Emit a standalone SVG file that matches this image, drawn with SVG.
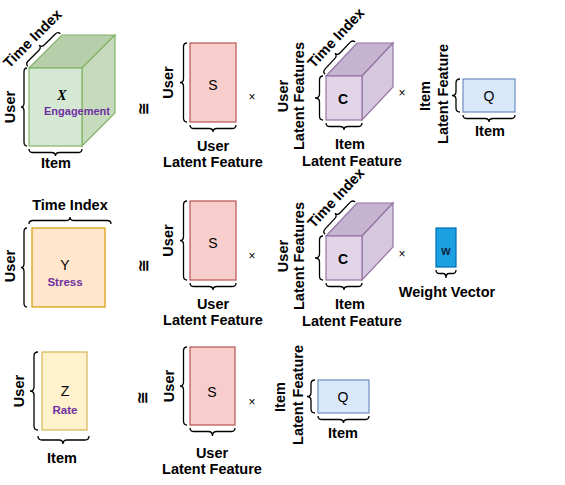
<svg xmlns="http://www.w3.org/2000/svg" width="565" height="485" viewBox="0 0 565 485">
<style>
text{font-family:"Liberation Sans","DejaVu Sans",Arial,sans-serif;fill:#000}
.lb{font-size:14.5px;font-weight:bold;text-anchor:middle}
.br{fill:none;stroke:#000;stroke-width:1.3}
.sym{font-size:14px;text-anchor:middle}
.op{font-size:12px;text-anchor:middle;dominant-baseline:central}
.eq{font-size:16px;font-weight:bold;text-anchor:middle;dominant-baseline:central;font-family:"DejaVu Sans","Liberation Sans",sans-serif}
.pu{font-size:11.5px;font-weight:bold;text-anchor:middle;fill:#7030a0}
.gf{fill:#d5e8d4;stroke:#82b366;stroke-width:1.2}
.gt{fill:#b6cfaa;stroke:#82b366;stroke-width:1.2}
.gr{fill:#c5dbbc;stroke:#82b366;stroke-width:1.2}
.pf{fill:#e1d5e7;stroke:#9673a6;stroke-width:1.2}
.pt{fill:#c4b4d0;stroke:#9673a6;stroke-width:1.2}
.pr{fill:#d5c7de;stroke:#9673a6;stroke-width:1.2}
.rs{fill:#f8cecc;stroke:#b85450;stroke-width:1.2}
.bq{fill:#dae8fc;stroke:#6c8ebf;stroke-width:1.2}
</style>

<!-- Row 1 -->
<g id="X-engagement">
  <polygon class="gt" points="29,68 62,35 115,35 82,68"/>
  <polygon class="gr" points="82,68 115,35 115,113 82,146"/>
  <rect class="gf" x="29" y="68" width="53" height="78"/>
  <text x="62" y="100" style="font-family:'Liberation Serif',serif;font-style:italic;font-weight:bold;font-size:14px;text-anchor:middle">X</text>
  <text class="pu" x="77" y="114.5" style="font-size:11px">Engagement</text>
  <g transform="translate(45.5,51.5) rotate(-45)">
    <path class="br" d="M-23 -2 Q-23 -5.5 -19 -5.5 L-4 -5.5 Q0 -5.5 0 -9 Q0 -5.5 4 -5.5 L19 -5.5 Q23 -5.5 23 -2"/>
    <text class="lb" x="0" y="-13.5">Time Index</text>
  </g>
  <path class="br" d="M27 68 Q24 68 24 72 L24 103 Q24 107 21 107 Q24 107 24 111 L24 142 Q24 146 27 146"/>
  <text class="lb" transform="translate(15,107) rotate(-90)">User</text>
  <path class="br" d="M29 149 Q29 152.5 33 152.5 L51.5 152.5 Q55.5 152.5 55.5 156 Q55.5 152.5 59.5 152.5 L78 152.5 Q82 152.5 82 149"/>
  <text class="lb" x="56" y="168">Item</text>
</g>

<g id="S-1">
  <rect class="rs" x="190" y="43" width="46" height="79"/>
  <text class="sym" x="213" y="90">S</text>
  <path class="br" d="M187 43 Q183.5 43 183.5 47 L183.5 78.5 Q183.5 82.5 180 82.5 Q183.5 82.5 183.5 86.5 L183.5 118 Q183.5 122 187 122"/>
  <text class="lb" transform="translate(173,82.5) rotate(-90)">User</text>
  <path class="br" d="M190 125 Q190 128.5 194 128.5 L209 128.5 Q213 128.5 213 132 Q213 128.5 217 128.5 L232 128.5 Q236 128.5 236 125"/>
  <text class="lb" x="213" y="151">User</text>
  <text class="lb" x="213" y="167">Latent Feature</text>
</g>

<g id="C-1">
  <polygon class="pt" points="326,76 357,43 393,43 362,76"/>
  <polygon class="pr" points="362,76 393,43 393,87 362,120"/>
  <rect class="pf" x="326" y="76" width="36" height="44"/>
  <text x="343" y="104" style="font-size:14px;font-weight:bold;text-anchor:middle">C</text>
  <g transform="translate(341.5,59.5) rotate(-46.8)">
    <path class="br" d="M-22 -2 Q-22 -5.5 -18 -5.5 L-4 -5.5 Q0 -5.5 0 -9 Q0 -5.5 4 -5.5 L18 -5.5 Q22 -5.5 22 -2"/>
    <text class="lb" x="12" y="-14">Time Index</text>
  </g>
  <path class="br" d="M323 76 Q319.5 76 319.5 80 L319.5 94 Q319.5 98 315 98 Q319.5 98 319.5 102 L319.5 116 Q319.5 120 323 120"/>
  <text class="lb" transform="translate(288,96) rotate(-90)">User</text>
  <text class="lb" transform="translate(304,96) rotate(-90)">Latent Features</text>
  <path class="br" d="M326 123 Q326 126.5 330 126.5 L340 126.5 Q344 126.5 344 130 Q344 126.5 348 126.5 L358 126.5 Q362 126.5 362 123"/>
  <text class="lb" x="350" y="149">Item</text>
  <text class="lb" x="352" y="166">Latent Feature</text>
</g>

<g id="Q-1">
  <rect class="bq" x="463" y="79" width="52" height="33"/>
  <text class="sym" x="489" y="101">Q</text>
  <path class="br" d="M460 79 Q456 79 456 83 L456 91.5 Q456 95.5 452 95.5 Q456 95.5 456 99.5 L456 108 Q456 112 460 112"/>
  <text class="lb" transform="translate(430,96) rotate(-90)">Item</text>
  <text class="lb" transform="translate(448,94) rotate(-90)">Latent Feature</text>
  <path class="br" d="M463 115 Q463 118.5 467 118.5 L485 118.5 Q489 118.5 489 122 Q489 118.5 493 118.5 L511 118.5 Q515 118.5 515 115"/>
  <text class="lb" x="490" y="136">Item</text>
</g>

<!-- Row 2 -->
<g id="Y-stress">
  <text class="lb" x="70" y="210">Time Index</text>
  <path class="br" d="M29 224 Q29 220.5 33 220.5 L66 220.5 Q70 220.5 70 217 Q70 220.5 74 220.5 L107 220.5 Q111 220.5 111 224"/>
  <rect x="32" y="228" width="73" height="79" style="fill:#ffe6cc;stroke:#d79b00;stroke-width:1.2"/>
  <text class="sym" x="65" y="270">Y</text>
  <text class="pu" x="65" y="286">Stress</text>
  <path class="br" d="M27 228 Q24 228 24 232 L24 263.5 Q24 267.5 21 267.5 Q24 267.5 24 271.5 L24 303 Q24 307 27 307"/>
  <text class="lb" transform="translate(15,266) rotate(-90)">User</text>
</g>

<g id="S-2">
  <rect class="rs" x="190" y="201" width="46" height="79"/>
  <text class="sym" x="213" y="248">S</text>
  <path class="br" d="M187 201 Q183.5 201 183.5 205 L183.5 236.5 Q183.5 240.5 180 240.5 Q183.5 240.5 183.5 244.5 L183.5 276 Q183.5 280 187 280"/>
  <text class="lb" transform="translate(173,240.5) rotate(-90)">User</text>
  <path class="br" d="M190 283 Q190 286.5 194 286.5 L209 286.5 Q213 286.5 213 290 Q213 286.5 217 286.5 L232 286.5 Q236 286.5 236 283"/>
  <text class="lb" x="213" y="309">User</text>
  <text class="lb" x="213" y="325">Latent Feature</text>
</g>

<g id="C-2">
  <polygon class="pt" points="326,236 357,203 393,203 362,236"/>
  <polygon class="pr" points="362,236 393,203 393,247 362,280"/>
  <rect class="pf" x="326" y="236" width="36" height="44"/>
  <text x="343" y="264" style="font-size:14px;font-weight:bold;text-anchor:middle">C</text>
  <g transform="translate(341.5,219.5) rotate(-46.8)">
    <path class="br" d="M-22 -2 Q-22 -5.5 -18 -5.5 L-4 -5.5 Q0 -5.5 0 -9 Q0 -5.5 4 -5.5 L18 -5.5 Q22 -5.5 22 -2"/>
    <text class="lb" x="12" y="-14">Time Index</text>
  </g>
  <path class="br" d="M323 236 Q319.5 236 319.5 240 L319.5 254 Q319.5 258 315 258 Q319.5 258 319.5 262 L319.5 276 Q319.5 280 323 280"/>
  <text class="lb" transform="translate(288,256) rotate(-90)">User</text>
  <text class="lb" transform="translate(304,256) rotate(-90)">Latent Features</text>
  <path class="br" d="M326 283 Q326 286.5 330 286.5 L340 286.5 Q344 286.5 344 290 Q344 286.5 348 286.5 L358 286.5 Q362 286.5 362 283"/>
  <text class="lb" x="350" y="309">Item</text>
  <text class="lb" x="352" y="326">Latent Feature</text>
</g>

<g id="W-weight">
  <rect x="436" y="228" width="20" height="39" style="fill:#1ba1e2;stroke:#006eaf;stroke-width:1.2"/>
  <text x="446" y="255" style="font-size:12px;font-weight:bold;text-anchor:middle;fill:#10243e">w</text>
  <path class="br" d="M436 270 Q436 273.5 439.5 273.5 L443 273.5 Q446 273.5 446 278 Q446 273.5 449 273.5 L452.5 273.5 Q456 273.5 456 270"/>
  <text class="lb" x="447" y="297">Weight Vector</text>
</g>

<!-- Row 3 -->
<g id="Z-rate">
  <rect x="42" y="352" width="45" height="78" style="fill:#fff2cc;stroke:#d6b656;stroke-width:1.2"/>
  <text class="sym" x="65" y="396">Z</text>
  <text class="pu" x="65" y="414">Rate</text>
  <path class="br" d="M38 352 Q34 352 34 356 L34 387 Q34 391 30 391 Q34 391 34 395 L34 426 Q34 430 38 430"/>
  <text class="lb" transform="translate(24,391) rotate(-90)">User</text>
  <path class="br" d="M38 436 Q38 440 42 440 L59 440 Q63 440 63 444 Q63 440 67 440 L85 440 Q89 440 89 436"/>
  <text class="lb" x="62" y="463">Item</text>
</g>

<g id="S-3">
  <rect class="rs" x="190" y="347" width="45" height="78"/>
  <text class="sym" x="212" y="397">S</text>
  <path class="br" d="M187 347 Q183.5 347 183.5 351 L183.5 382 Q183.5 386 180 386 Q183.5 386 183.5 390 L183.5 421 Q183.5 425 187 425"/>
  <text class="lb" transform="translate(174,386) rotate(-90)">User</text>
  <path class="br" d="M190 428 Q190 431.5 194 431.5 L208.5 431.5 Q212.5 431.5 212.5 436 Q212.5 431.5 216.5 431.5 L231 431.5 Q235 431.5 235 428"/>
  <text class="lb" x="212" y="458">User</text>
  <text class="lb" x="212" y="474">Latent Feature</text>
</g>

<g id="Q-3">
  <rect class="bq" x="318" y="380" width="51" height="33"/>
  <text class="sym" x="343" y="402">Q</text>
  <path class="br" d="M315 380 Q311 380 311 384 L311 392.5 Q311 396.5 307 396.5 Q311 396.5 311 400.5 L311 409 Q311 413 315 413"/>
  <text class="lb" transform="translate(285,397) rotate(-90)">Item</text>
  <text class="lb" transform="translate(303,395) rotate(-90)">Latent Feature</text>
  <path class="br" d="M318 416 Q318 419.5 322 419.5 L339.5 419.5 Q343.5 419.5 343.5 423 Q343.5 419.5 347.5 419.5 L365 419.5 Q369 419.5 369 416"/>
  <text class="lb" x="343" y="438">Item</text>
</g>

<g id="connectors">
  <text class="eq" transform="translate(143,109) rotate(-90)">≅</text>
  <text class="op" x="252" y="97">×</text>
  <text class="op" x="402" y="93">×</text>
  <text class="eq" transform="translate(143,266) rotate(-90)">≅</text>
  <text class="op" x="252" y="256">×</text>
  <text class="op" x="402" y="254">×</text>
  <text class="eq" transform="translate(142,398) rotate(-90)">≅</text>
  <text class="op" x="252" y="402">×</text>
</g>
</svg>
